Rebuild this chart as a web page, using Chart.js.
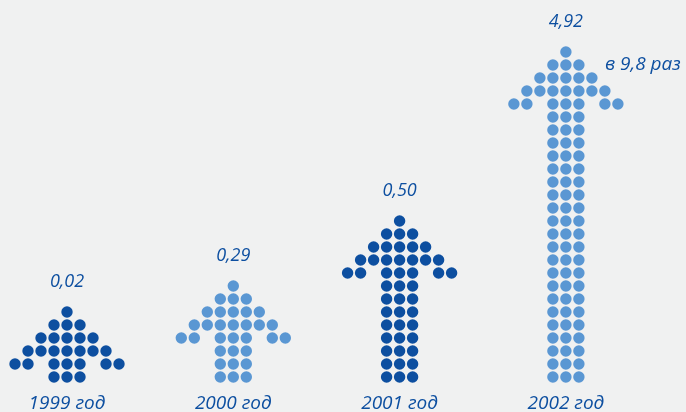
<!DOCTYPE html>
<html>
<head>
<meta charset="utf-8">
<script src="https://cdn.jsdelivr.net/npm/chart.js@4"></script>
<style>
  body { margin: 0; background: #f0f1f1; }
  canvas { display: block; }
</style>
</head>
<body>
<canvas id="myChart" width="686" height="412"></canvas>
<script>
// Data
var years = ["1999 год", "2000 год", "2001 год", "2002 год"];
var values = ["0,02", "0,29", "0,50", "4,92"];
var shaftRows = [2, 4, 9, 22]; // rows of dots in the arrow shaft (incl. barb row)
var growthNote = "в 9,8 раз";

var dark = "#0d4fa0";
var light = "#5a97d3";
var colors = [dark, light, dark, light];

// layout constants (one dot step in category units / row units)
var colStep = 13 / 166.3;

// build the dots of one arrow from its shaft length
function arrowDots(i, rows) {
  var pts = [];
  for (var r = 0; r < rows; r++) {
    for (var c = -1; c <= 1; c++) pts.push({ x: i + c * colStep, y: r });
  }
  var barb = rows - 1;
  [-4, -3, 3, 4].forEach(function (c) {
    pts.push({ x: i + c * colStep, y: barb });
  });
  var half = [3, 2, 1, 0];
  half.forEach(function (h, k) {
    for (var c = -h; c <= h; c++) pts.push({ x: i + c * colStep, y: rows + k });
  });
  return pts;
}

var ctx = document.getElementById("myChart").getContext("2d");

var datasets = years.map(function (y, i) {
  return {
    label: y,
    data: arrowDots(i, shaftRows[i]),
    pointRadius: 5.7,
    pointHoverRadius: 5.7,
    pointBackgroundColor: colors[i],
    pointBorderWidth: 0,
    showLine: false,
  };
});

var labelsPlugin = {
  id: "labels",
  afterDatasetsDraw: function (chart) {
    var c = chart.ctx;
    var xs = chart.scales.x, ys = chart.scales.y;
    c.save();
    c.fillStyle = dark;
    c.textAlign = "center";
    c.textBaseline = "middle";
    years.forEach(function (y, i) {
      var x = xs.getPixelForValue(i);
      c.font = "italic 18px 'Open Sans', sans-serif";
      c.fillText(values[i], x, ys.getPixelForValue(shaftRows[i] + 3 + 2.35));
      c.font = "italic 19px 'Open Sans', sans-serif";
      c.fillText(y, x, ys.getPixelForValue(-2.05));
    });
    c.textAlign = "left";
    c.font = "italic 19px 'Open Sans', sans-serif";
    c.fillText(growthNote, xs.getPixelForValue(3 + 3.0 * colStep), ys.getPixelForValue(shaftRows[3] + 2));
    c.restore();
  },
};

var myChart = new Chart(ctx, {
  type: "scatter",
  data: { datasets: datasets },
  options: {
    responsive: false,
    animation: false,
    layout: { padding: 0, autoPadding: false },
    plugins: { legend: { display: false }, tooltip: { enabled: false } },
    scales: {
      x: { type: "linear", display: false, min: -67 / 166.3, max: -67 / 166.3 + 686 / 166.3 },
      y: { type: "linear", display: false, min: -35 / 13, max: -35 / 13 + 412 / 13 },
    },
  },
  plugins: [labelsPlugin],
});
</script>
</body>
</html>
